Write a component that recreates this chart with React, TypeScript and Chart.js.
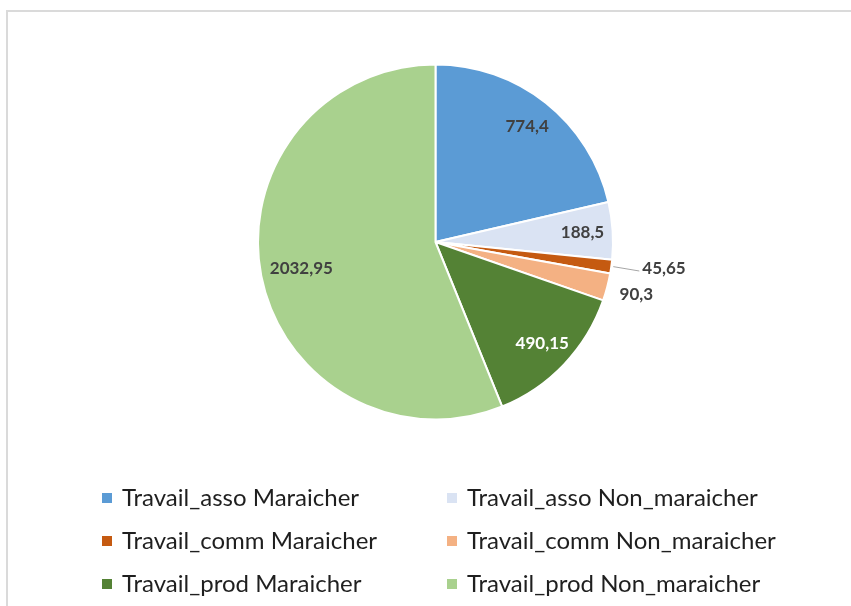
import React, { useEffect, useRef } from "react";
import { Chart, registerables } from "chart.js";

Chart.register(...registerables);

const categories = [
  "Travail_asso Maraicher",
  "Travail_asso Non_maraicher",
  "Travail_comm Maraicher",
  "Travail_comm Non_maraicher",
  "Travail_prod Maraicher",
  "Travail_prod Non_maraicher",
];
const values = [774.4, 188.5, 45.65, 90.3, 490.15, 2032.95];
const valueLabels = ["774,4", "188,5", "45,65", "90,3", "490,15", "2032,95"];
const colors = ["#5B9BD5", "#DAE3F3", "#C55A11", "#F4B183", "#548235", "#A9D18E"];
// label placement: inside / outside / leader, and radial distance factor
const placements = ["inside", "inside", "leader", "outside", "inside", "inside"];
const labelRadius = [0.83, 0.83, 1.3, 1.17, 0.83, 0.77];
const labelColors = ["#404040", "#404040", "#404040", "#404040", "#FFFFFF", "#404040"];

const FONT = "Lato, 'Open Sans', sans-serif";

const labelPlugin = {
  id: "sliceLabels",
  afterDatasetsDraw(chart: any) {
    const ctx = chart.ctx;
    const meta = chart.getDatasetMeta(0);
    ctx.save();
    ctx.font = `bold 17px ${FONT}`;
    ctx.textBaseline = "middle";
    ctx.textAlign = "center";
    meta.data.forEach((arc: any, i: number) => {
      const { x, y, startAngle, endAngle, outerRadius } = arc.getProps(
        ["x", "y", "startAngle", "endAngle", "outerRadius"],
        true
      );
      const mid = (startAngle + endAngle) / 2;
      const text = valueLabels[i];
      const p = placements[i];
      const f = labelRadius[i];
      const lx = x + Math.cos(mid) * outerRadius * f;
      const ly = y + Math.sin(mid) * outerRadius * f - (p === "leader" ? 5 : 0);
      if (p === "leader") {
        const w = ctx.measureText(text).width;
        const sx = x + Math.cos(mid) * outerRadius;
        const sy = y + Math.sin(mid) * outerRadius;
        ctx.strokeStyle = "#A6A6A6";
        ctx.lineWidth = 1;
        ctx.beginPath();
        ctx.moveTo(sx + 2, sy);
        ctx.lineTo(lx - w / 2 - 3, ly + 2);
        ctx.stroke();
      }
      ctx.fillStyle = labelColors[i];
      ctx.fillText(text, lx, ly);
    });
    ctx.restore();
  },
};

const legendPlugin = {
  id: "gridLegend",
  afterDraw(chart: any) {
    const ctx = chart.ctx;
    ctx.save();
    ctx.font = `24px ${FONT}`;
    ctx.textBaseline = "middle";
    ctx.textAlign = "left";
    const colX = [102, 447];
    const rowY = [498, 541, 584];
    categories.forEach((label, i) => {
      const cx = colX[i % 2];
      const cy = rowY[Math.floor(i / 2)];
      ctx.fillStyle = colors[i];
      ctx.fillRect(cx, cy - 5, 10, 10);
      ctx.fillStyle = "#1F1F1F";
      ctx.fillText(label, cx + 20, cy);
    });
    ctx.restore();
  },
};

export default function App() {
  const ref = useRef<HTMLCanvasElement>(null);
  useEffect(() => {
    if (!ref.current) return;
    const chart = new Chart(ref.current, {
      type: "pie",
      data: {
        labels: categories,
        datasets: [
          {
            data: values,
            backgroundColor: colors,
            borderColor: "#FFFFFF",
            borderWidth: 2,
          },
        ],
      },
      options: {
        animation: false,
        responsive: false,
        maintainAspectRatio: false,
        layout: { padding: { top: 63, bottom: 185, left: 257, right: 237 } },
        plugins: {
          legend: { display: false },
          tooltip: { enabled: false },
          title: { display: false },
        },
      },
      plugins: [labelPlugin, legendPlugin],
    });
    return () => chart.destroy();
  }, []);
  return (
    <div style={{ position: "fixed", left: 0, top: 0, width: 851, height: 606, background: "#FFFFFF" }}>
      <div
        style={{
          position: "absolute",
          left: 6,
          top: 10,
          right: -2,
          bottom: -2,
          borderLeft: "2px solid #DADADA",
          borderTop: "2px solid #DADADA",
        }}
      />
      <canvas ref={ref} width={851} height={606} style={{ position: "absolute", left: 0, top: 0 }} />
    </div>
  );
}
